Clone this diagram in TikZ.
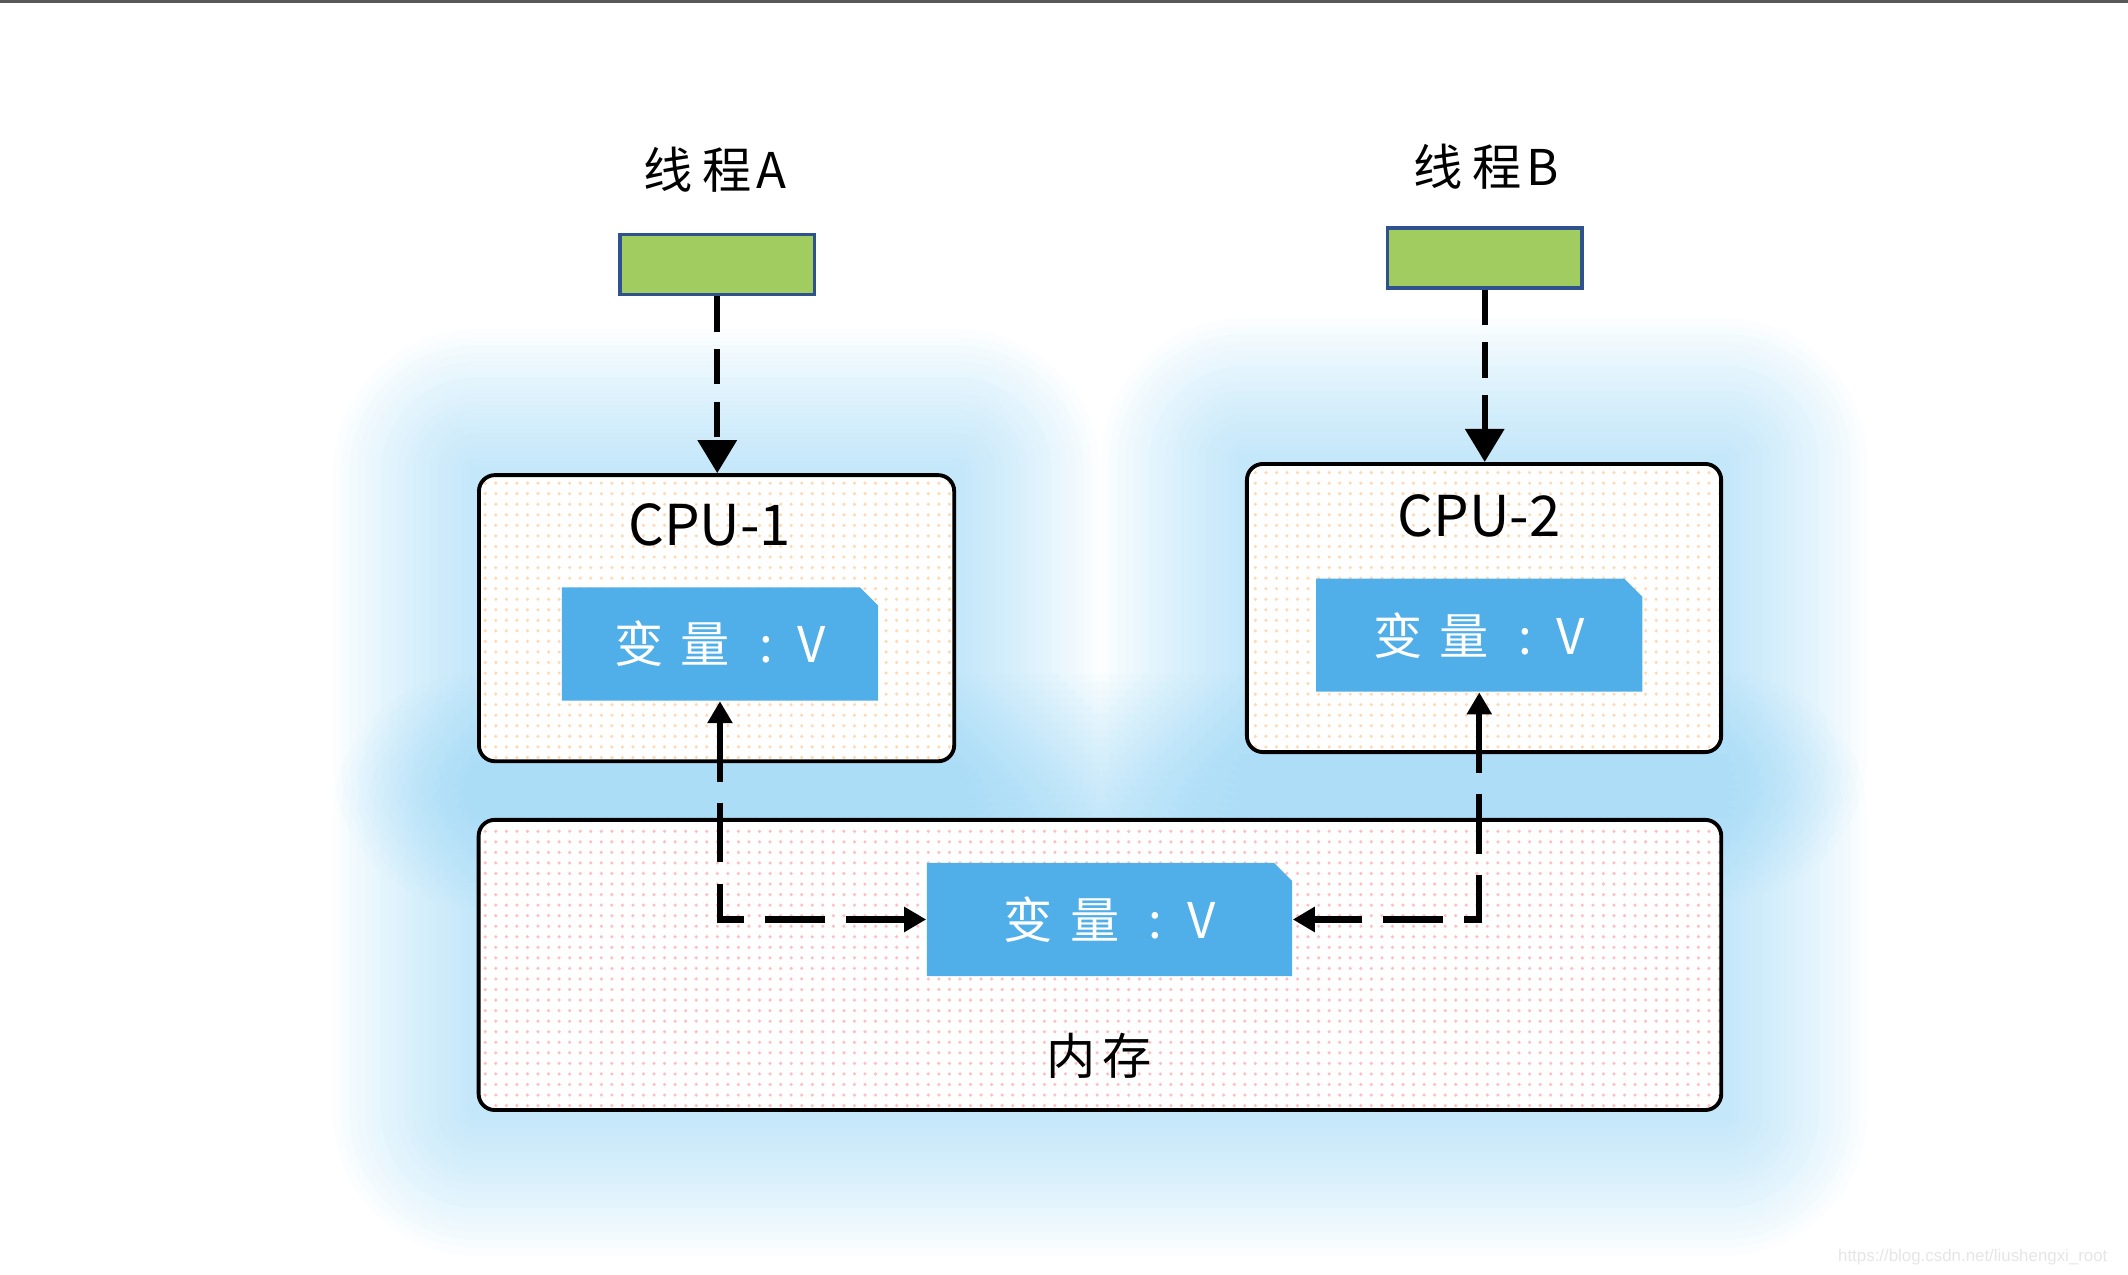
\documentclass[tikz,border=0pt]{standalone}
\usepackage{fontspec}
\setmainfont{Noto Sans CJK SC}
\newfontfamily\markfont{Liberation Sans}
\usetikzlibrary{arrows.meta,patterns,backgrounds}

\definecolor{thrgreen}{RGB}{160,204,96}
\definecolor{thrblue}{RGB}{47,82,143}
\definecolor{varblue}{RGB}{80,174,232}
\definecolor{glowblue}{RGB}{120,200,242}

\tikzset{
  thread/.style={draw=thrblue, line width=1pt, fill=thrgreen,
    minimum width=1.94cm, minimum height=0.6cm, inner sep=0pt},
  unit/.style={draw=black, line width=1.1pt, rounded corners=0.16cm,
    preaction={fill=white}, pattern=dots, inner sep=0pt},
  var/.style={minimum height=1.13cm, inner sep=0pt, text=white,
    font=\fontsize{14}{14}\selectfont,
    path picture={\fill[varblue] (path picture bounding box.south west)
      -- (path picture bounding box.north west)
      -- ([xshift=-0.18cm]path picture bounding box.north east)
      -- ([yshift=-0.18cm]path picture bounding box.north east)
      -- (path picture bounding box.south east) -- cycle;}},
  label/.style={font=\fontsize{14}{14}\selectfont, inner sep=0pt},
  load/.style={line width=1.8pt, dash pattern=on 10pt off 5pt},
  sync/.style={line width=1.8pt, dash pattern=on 17pt off 6pt}
}

\begin{document}
\begin{tikzpicture}[x=0.01357cm, y=-0.01357cm]
  \useasboundingbox (0,0) rectangle (1568,939);
  \draw[black!65, line width=1pt] (0,1) -- (1568,1);

  % Threads
  \node[label] (labA) at (527,125) {线\hspace{0.2em}程\hspace{0.1em}A};
  \node[label] (labB) at (1095,123) {线\hspace{0.2em}程\hspace{0.1em}B};
  \node[thread] (thrA) at (528.5,195) {};
  \node[thread] (thrB) at (1094,190) {};

  % CPUs and memory
  \node[unit, pattern color=orange!30, minimum width=4.75cm, minimum height=2.86cm]
    (cpu1) at (528,455.5) {};
  \node[unit, pattern color=orange!30, minimum width=4.74cm, minimum height=2.88cm]
    (cpu2) at (1093.5,448) {};
  \node[unit, pattern color=red!25, minimum width=12.42cm, minimum height=2.9cm]
    (mem) at (810.5,711) {};
  \node[label, font=\fontsize{16}{16}\selectfont] (cpuA) at (523,387) {CPU-1};
  \node[label, font=\fontsize{16}{16}\selectfont] (cpuB) at (1090,380) {CPU-2};
  \node[label] (memlab) at (810,778) {内\hspace{0.15em}存};

  % Variables
  \node[var, minimum width=3.16cm] (var1) at (530.5,474.5)
    {变\hspace{0.35em}量\hspace{0.6em}:\hspace{0.5em}V};
  \node[var, minimum width=3.26cm] (var2) at (1090,468)
    {变\hspace{0.35em}量\hspace{0.6em}:\hspace{0.5em}V};
  \node[var, minimum width=3.65cm] (varM) at (817.5,677.5)
    {变\hspace{0.35em}量\hspace{0.6em}:\hspace{0.5em}V};

  % Arrows
  \draw[load, -{Triangle[length=0.33cm, width=0.38cm]}]
    (thrA.south) -- (thrA.south |- cpu1.north);
  \draw[load, -{Triangle[length=0.33cm, width=0.38cm]}]
    (thrB.south) -- (thrB.south |- cpu2.north);
  \draw[sync, {Triangle[length=0.22cm, width=0.24cm]}-{Triangle[length=0.22cm, width=0.24cm]}]
    (var1.south) |- (varM.west);
  \draw[sync, {Triangle[length=0.22cm, width=0.24cm]}-{Triangle[length=0.22cm, width=0.24cm]}]
    (var2.south) |- (varM.east);

  \node[anchor=east, text=black!10, font=\markfont\fontsize{4.8}{4.8}\selectfont]
    (mark) at (1562,926) {https://blog.csdn.net/liushengxi\_root};

  % Glow
  \begin{scope}[on background layer]
    \foreach \unitname in {cpu1,cpu2,mem}
      \foreach \g in {1,...,18}
        \fill[glowblue, fill opacity=0.03, rounded corners={\g*0.8mm}]
          ([shift={(-\g*0.8mm,\g*0.8mm)}]\unitname.north west)
          rectangle ([shift={(\g*0.8mm,-\g*0.8mm)}]\unitname.south east);
  \end{scope}
\end{tikzpicture}
\end{document}
